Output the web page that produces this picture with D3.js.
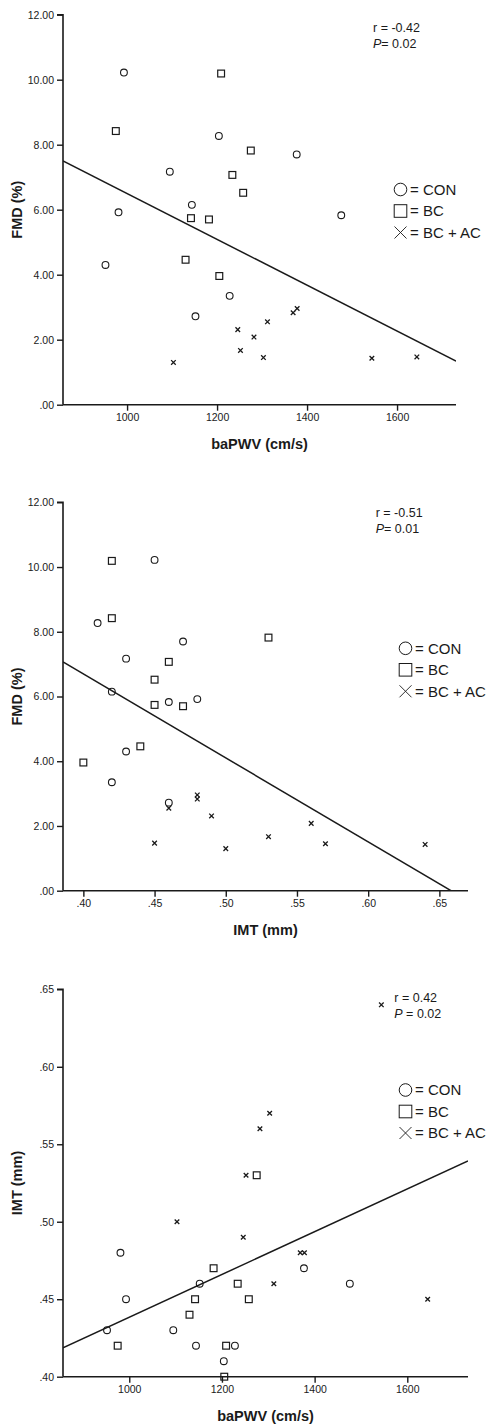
<!DOCTYPE html>
<html>
<head>
<meta charset="utf-8">
<script src="https://cdn.jsdelivr.net/npm/d3@7"></script>
<style>
  html, body { margin: 0; padding: 0; background: #fff; }
  svg { display: block; font-family: "Liberation Sans", Arial, sans-serif; }
</style>
</head>
<body>
<svg id="chart" width="486" height="1424"></svg>
<script>
// ---------------- DATA ----------------
const groups = ["CON", "BC", "BC + AC"];

// CON (circles)
const conBaPWV = [993, 1204, 1377, 1095, 981, 952, 1144, 1228, 1152, 1476];
const conFMD   = [10.22, 8.27, 7.70, 7.17, 5.92, 4.30, 6.15, 3.35, 2.72, 5.83];
const conIMT   = [0.45, 0.41, 0.47, 0.43, 0.48, 0.43, 0.42, 0.42, 0.46, 0.46];

// BC (squares)
const bcBaPWV = [1209, 975, 1275, 1234, 1258, 1142, 1182, 1130, 1205];
const bcFMD   = [10.19, 8.42, 7.82, 7.07, 6.52, 5.74, 5.70, 4.46, 3.96];
const bcIMT   = [0.42, 0.42, 0.53, 0.46, 0.45, 0.45, 0.47, 0.44, 0.40];

// BC + AC (crosses)
const acBaPWV = [1103, 1246, 1252, 1282, 1303, 1312, 1369, 1378, 1544, 1644];
const acFMD   = [1.30, 2.31, 1.67, 2.08, 1.45, 2.55, 2.83, 2.96, 1.43, 1.47];
const acIMT   = [0.50, 0.49, 0.53, 0.56, 0.57, 0.46, 0.48, 0.48, 0.64, 0.45];

// axis ticks
const fmdTicks   = [0, 2, 4, 6, 8, 10, 12];
const pwvTicks   = [1000, 1200, 1400, 1600];
const imtTicks   = [0.40, 0.45, 0.50, 0.55, 0.60, 0.65];

// annotation texts
const statR = ["r = -0.42", "r = -0.51", "r = 0.42"];
const statP = ["0.02", "0.01", "0.02"];

// ---------------- LAYOUT ----------------
const svg = d3.select("#chart");
const ink = "#1a1a1a";

const fmt2 = v => d3.format(".2f")(v).replace(/^0\./, ".");
const fmtInt = d3.format("d");

const datasets = {
  baPWV: [conBaPWV, bcBaPWV, acBaPWV],
  FMD:   [conFMD, bcFMD, acFMD],
  IMT:   [conIMT, bcIMT, acIMT]
};

const panels = [
  { xVar: "baPWV", yVar: "FMD", xLabel: "baPWV (cm/s)", yLabel: "FMD (%)",
    left: 63, right: 456, top: 14.7, bottom: 404.7,
    xDom: [857.6, 1731], yDom: [0, 12], xTicks: pwvTicks, yTicks: fmdTicks,
    xFmt: fmtInt, yFmt: fmt2,
    stat: { x: 373, y: 32, pSep: "= " }, legend: { x: 394, y: 189.5 } },
  { xVar: "IMT", yVar: "FMD", xLabel: "IMT (mm)", yLabel: "FMD (%)",
    left: 63, right: 468, top: 502.3, bottom: 890.7,
    xDom: [0.3857, 0.6701], yDom: [0, 12], xTicks: imtTicks, yTicks: fmdTicks,
    xFmt: fmt2, yFmt: fmt2,
    stat: { x: 375.7, y: 517, pSep: "= " }, legend: { x: 399, y: 648.3 } },
  { xVar: "baPWV", yVar: "IMT", xLabel: "baPWV (cm/s)", yLabel: "IMT (mm)",
    left: 63, right: 468, top: 989.3, bottom: 1376.7,
    xDom: [857, 1731], yDom: [0.40, 0.65], xTicks: pwvTicks, yTicks: imtTicks,
    xFmt: fmtInt, yFmt: fmt2,
    stat: { x: 394.3, y: 1002.3, pSep: " = " }, legend: { x: 399, y: 1090 } }
];

function linreg(xs, ys) {
  const n = xs.length;
  const mx = d3.mean(xs), my = d3.mean(ys);
  let sxy = 0, sxx = 0;
  for (let i = 0; i < n; i++) { sxy += (xs[i]-mx)*(ys[i]-my); sxx += (xs[i]-mx)**2; }
  const b = sxy / sxx;
  return { a: my - b*mx, b };
}

function drawMarker(g, type, x, y, s) {
  if (type === 0) {
    g.append("circle").attr("cx", x).attr("cy", y).attr("r", s/2)
      .attr("fill", "none").attr("stroke", ink).attr("stroke-width", 1.1);
  } else if (type === 1) {
    g.append("rect").attr("x", x - s/2).attr("y", y - s/2).attr("width", s).attr("height", s)
      .attr("fill", "none").attr("stroke", ink).attr("stroke-width", 1.2);
  } else {
    const h = s/2;
    g.append("path").attr("d", `M${x-h},${y-h}L${x+h},${y+h}M${x-h},${y+h}L${x+h},${y-h}`)
      .attr("fill", "none").attr("stroke", ink).attr("stroke-width", 1.3);
  }
}

panels.forEach((p, pi) => {
  const g = svg.append("g");
  const x = d3.scaleLinear().domain(p.xDom).range([p.left, p.right]);
  const y = d3.scaleLinear().domain(p.yDom).range([p.bottom, p.top]);

  // clip
  const cid = "clip" + pi;
  svg.append("clipPath").attr("id", cid).append("rect")
    .attr("x", p.left).attr("y", p.top).attr("width", p.right - p.left).attr("height", p.bottom - p.top);

  // regression line over all points
  const allX = [].concat(...datasets[p.xVar]);
  const allY = [].concat(...datasets[p.yVar]);
  const fit = linreg(allX, allY);
  g.append("line").attr("clip-path", `url(#${cid})`)
    .attr("x1", x(p.xDom[0])).attr("y1", y(fit.a + fit.b*p.xDom[0]))
    .attr("x2", x(p.xDom[1])).attr("y2", y(fit.a + fit.b*p.xDom[1]))
    .attr("stroke", ink).attr("stroke-width", 1.5);

  // points
  groups.forEach((gr, k) => {
    const xs = datasets[p.xVar][k], ys = datasets[p.yVar][k];
    xs.forEach((xv, i) => drawMarker(g, k, x(xv), y(ys[i]), k === 2 ? 4.6 : 6.8));
  });

  // axes
  const yAxis = d3.axisLeft(y).tickValues(p.yTicks).tickFormat(p.yFmt).tickSize(6).tickPadding(3);
  const xAxis = d3.axisBottom(x).tickValues(p.xTicks).tickFormat(p.xFmt).tickSize(6).tickPadding(3);
  const ya = g.append("g").attr("transform", `translate(${p.left},0)`).call(yAxis);
  const xa = g.append("g").attr("transform", `translate(0,${p.bottom})`).call(xAxis);
  [ya, xa].forEach(a => {
    a.select(".domain").attr("stroke", ink).attr("stroke-width", 1.6);
    a.selectAll(".tick line").attr("stroke", ink).attr("stroke-width", 1.4);
    a.selectAll(".tick text").attr("fill", ink).attr("font-size", 10.5)
      .attr("font-family", "'Liberation Sans', Arial, sans-serif");
  });
  // SPSS style: axis starts at ends of plot
  ya.select(".domain").attr("d", `M-6,${p.top}H0V${p.bottom}`);
  xa.select(".domain").attr("d", `M${p.left},0H${p.right}`);

  // axis titles
  g.append("text").attr("x", (p.left + p.right)/2).attr("y", p.bottom + 44)
    .attr("text-anchor", "middle").attr("font-weight", "bold").attr("font-size", 14.5)
    .attr("fill", ink).text(p.xLabel);
  g.append("text").attr("transform", `translate(22,${(p.top + p.bottom)/2}) rotate(-90)`)
    .attr("text-anchor", "middle").attr("font-weight", "bold").attr("font-size", 14.5)
    .attr("fill", ink).text(p.yLabel);

  // stats annotation
  g.append("text").attr("x", p.stat.x).attr("y", p.stat.y).attr("font-size", 12.5)
    .attr("fill", ink).text(statR[pi]);
  const pt = g.append("text").attr("x", p.stat.x).attr("y", p.stat.y + 16).attr("font-size", 12.5)
    .attr("fill", ink);
  pt.append("tspan").attr("font-style", "italic").text("P");
  pt.append("tspan").text(p.stat.pSep + statP[pi]);

  // legend
  groups.forEach((gr, k) => {
    const cy = p.legend.y + k * 21.5;
    const cx = p.legend.x + 6.5;
    if (k === 0) {
      g.append("circle").attr("cx", cx).attr("cy", cy).attr("r", 6.3)
        .attr("fill", "none").attr("stroke", ink).attr("stroke-width", 1);
    } else if (k === 1) {
      g.append("rect").attr("x", cx - 6.3).attr("y", cy - 6.3).attr("width", 12.6).attr("height", 12.6)
        .attr("fill", "none").attr("stroke", ink).attr("stroke-width", 1);
    } else {
      g.append("path").attr("d", `M${cx-6},${cy-6}L${cx+6},${cy+6}M${cx-6},${cy+6}L${cx+6},${cy-6}`)
        .attr("fill", "none").attr("stroke", ink).attr("stroke-width", 0.9);
    }
    g.append("text").attr("x", p.legend.x + 16).attr("y", cy + 5.3).attr("font-size", 15)
      .attr("fill", ink).text("= " + gr);
  });
});
</script>
</body>
</html>
